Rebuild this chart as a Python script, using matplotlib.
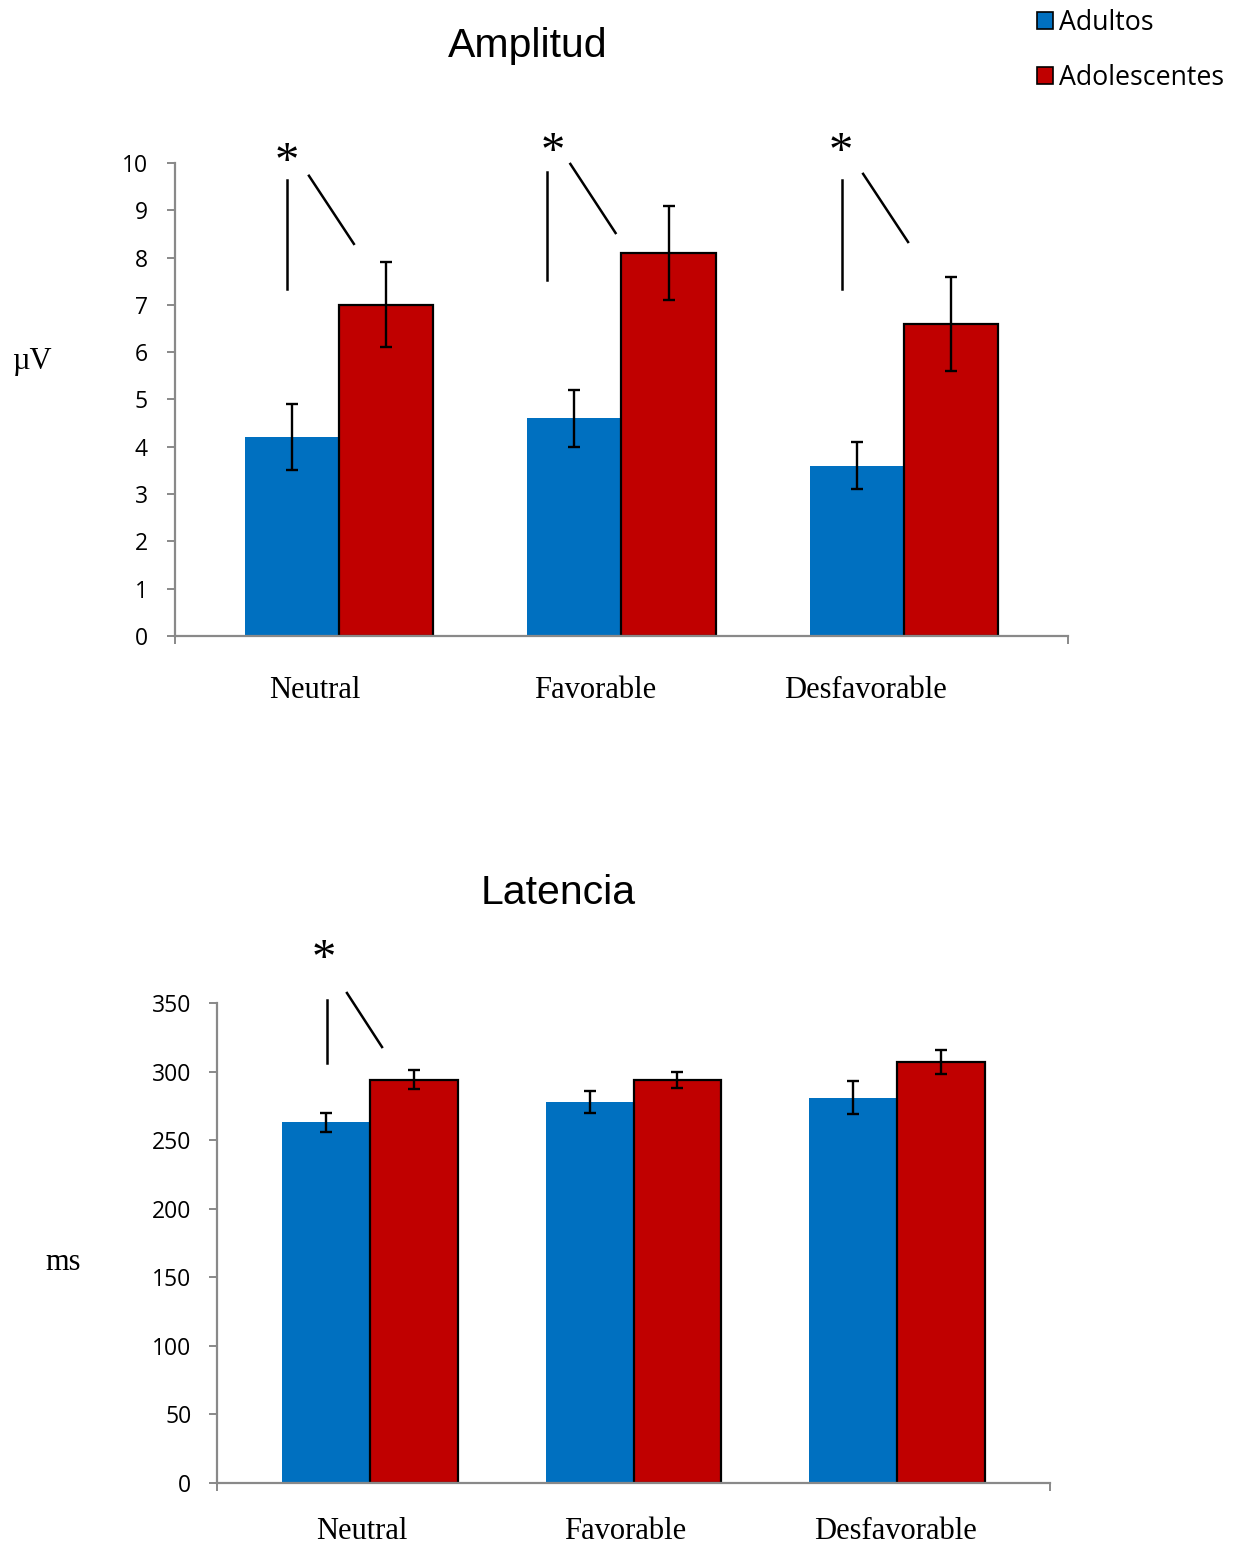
import numpy as np
import matplotlib
matplotlib.use("Agg")
import matplotlib.pyplot as plt
from matplotlib.patches import Patch

categorias = ["Neutral", "Favorable", "Desfavorable"]
grupos = ["Adultos", "Adolescentes"]

# amplitud (uV)
amp_adultos = [4.2, 4.6, 3.6]
amp_adultos_err = [0.7, 0.6, 0.5]
amp_adoles = [7.0, 8.1, 6.6]
amp_adoles_err = [0.9, 1.0, 1.0]

# latencia (ms)
lat_adultos = [263, 278, 281]
lat_adultos_err = [7, 8, 12]
lat_adoles = [294, 294, 307]
lat_adoles_err = [7, 6, 9]

azul = "#0070C0"
rojo = "#C00000"
gris = "#898989"

W, H = 1242, 1546
fig = plt.figure(figsize=(W / 100, H / 100), dpi=100)

sans = ["Open Sans", "DejaVu Sans"]
serif = ["Liberation Serif", "DejaVu Serif"]


def panel(rect, a, a_err, b, b_err, ymax, ystep, lab_off, lab_pad, ypad):
    ax = fig.add_axes(rect)
    x = np.arange(len(categorias))
    w = 0.333
    ax.bar(x - w / 2, a, w, color=azul, linewidth=0, zorder=2)
    ax.bar(x + w / 2, b, w, color=rojo, edgecolor="black", linewidth=1.6, zorder=2)
    ax.errorbar(x - w / 2, a, yerr=a_err, fmt="none", ecolor="black",
                elinewidth=1.7, capsize=4.3, capthick=1.7, zorder=3)
    ax.errorbar(x + w / 2, b, yerr=b_err, fmt="none", ecolor="black",
                elinewidth=1.7, capsize=4.3, capthick=1.7, zorder=3)
    ax.set_xlim(-0.58, 2.58)
    ax.set_ylim(0, ymax)
    ax.set_yticks(np.arange(0, ymax + ystep / 2, ystep))
    ax.tick_params(axis="y", length=6, width=1.4, color=gris, pad=ypad, labelsize=16.5)
    for t in ax.get_yticklabels():
        t.set_family(sans)
    ax.set_xticks(x + np.array(lab_off))
    ax.set_xticklabels(categorias, family=serif, fontsize=22)
    ax.tick_params(axis="x", length=0, pad=lab_pad)
    # end ticks on x axis
    ax.set_xticks([-0.58, 2.58], minor=True)
    ax.tick_params(axis="x", which="minor", length=6, width=1.4, color=gris)
    for s in ["top", "right"]:
        ax.spines[s].set_visible(False)
    for s in ["left", "bottom"]:
        ax.spines[s].set_color(gris)
        ax.spines[s].set_linewidth(1.6)
    return ax


ax1 = panel([175 / W, 1 - 636 / H, (1068 - 175) / W, (636 - 163) / H],
            amp_adultos, amp_adultos_err, amp_adoles, amp_adoles_err,
            10, 1, [-0.085, -0.092, -0.138], 29, 13.5)
ax2 = panel([217 / W, 1 - 1483 / H, (1050 - 217) / W, (1483 - 1003) / H],
            lat_adultos, lat_adultos_err, lat_adoles, lat_adoles_err,
            350, 50, [-0.03, -0.03, -0.008], 24.5, 12.5)

# significance marks
def marca(ax, xa, yv, xd, yd):
    ax.plot([xa, xa], yv, color="black", lw=1.8, clip_on=False)
    ax.plot(xd, yd, color="black", lw=1.8, clip_on=False)


marca(ax1, -0.184, [7.34, 9.64], [-0.106, 0.053], [9.73, 8.29])
marca(ax1, 0.735, [7.53, 9.81], [0.819, 0.979], [9.98, 8.52])
marca(ax1, 1.781, [7.34, 9.64], [1.855, 2.014], [9.77, 8.33])
for xs, ys in [(-0.184, 10.0), (0.756, 10.21), (1.777, 10.21)]:
    ax1.text(xs, ys, "*", family=serif, fontsize=35, ha="center", va="center")
marca(ax2, -0.163, [306.3, 352.2], [-0.087, 0.046], [357.3, 317.9])
ax2.text(-0.175, 381.4, "*", family=serif, fontsize=35, ha="center", va="center")

fig.text(528 / W, 1 - 46 / H, "Amplitud", family=["Liberation Sans"], fontsize=29.5,
         ha="center", va="center")
fig.text(558 / W, 1 - 893 / H, "Latencia", family=["Liberation Sans"], fontsize=29.5,
         ha="center", va="center")
fig.text(32 / W, 1 - 362 / H, "µV", family=serif, fontsize=22, ha="center", va="center")
fig.text(63 / W, 1 - 1262 / H, "ms", family=serif, fontsize=22, ha="center", va="center")

handles = [Patch(facecolor=azul, edgecolor="black", linewidth=1.2),
           Patch(facecolor=rojo, edgecolor="black", linewidth=1.2)]
leg = fig.legend(handles, grupos, loc="upper left", bbox_to_anchor=(1026 / W, 1 + 2 / H),
                 frameon=False, prop={"family": sans, "size": 19.3},
                 handlelength=0.62, handleheight=0.62, handletextpad=0.22,
                 labelspacing=1.02, borderaxespad=0)

fig.savefig("out.png", dpi=100)
